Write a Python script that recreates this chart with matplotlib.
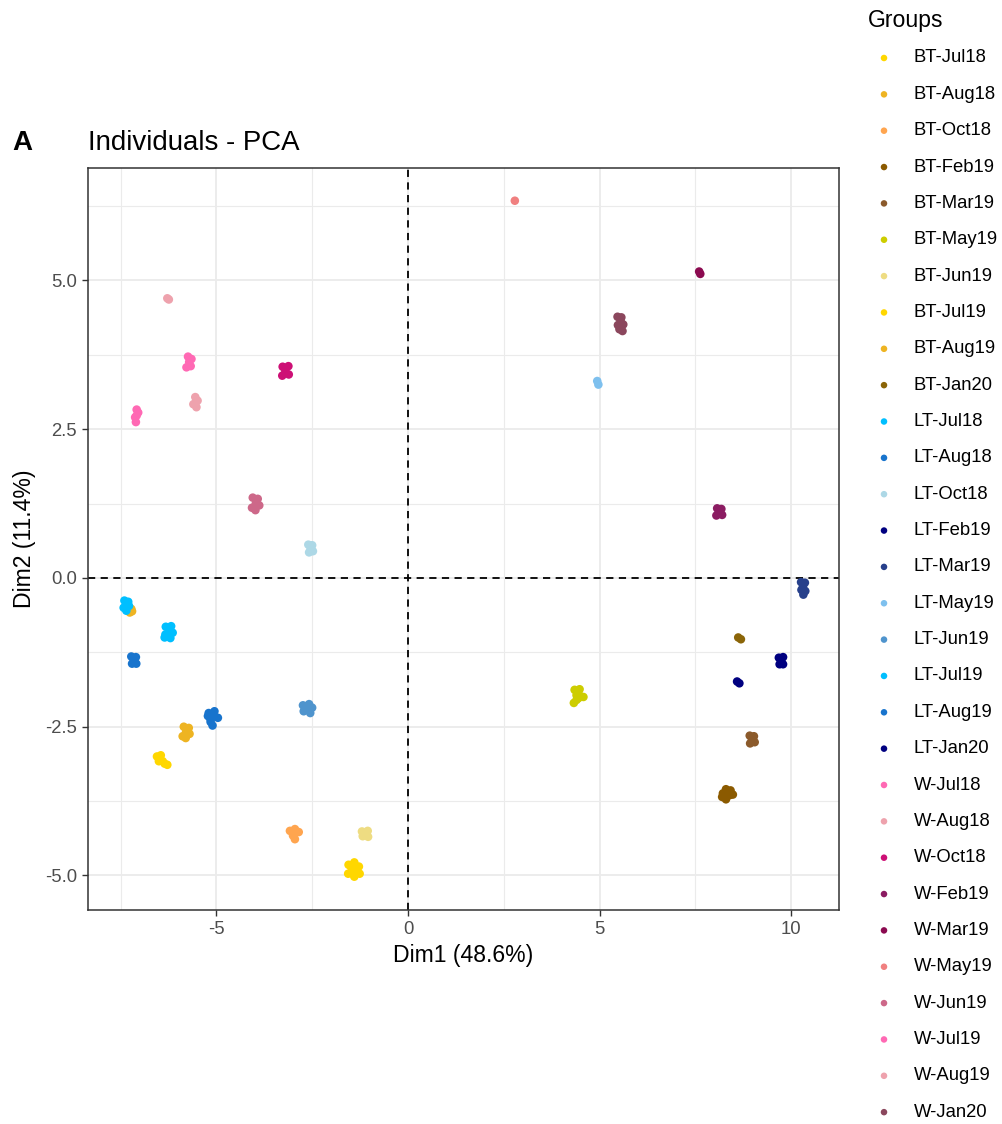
import matplotlib
matplotlib.use("Agg")
import matplotlib.pyplot as plt

plt.rcParams['font.family'] = ['Liberation Sans', 'DejaVu Sans']

# Group labels (legend order) and their colours
groups = [
    "BT-Jul18", "BT-Aug18", "BT-Oct18", "BT-Feb19", "BT-Mar19", "BT-May19",
    "BT-Jun19", "BT-Jul19", "BT-Aug19", "BT-Jan20",
    "LT-Jul18", "LT-Aug18", "LT-Oct18", "LT-Feb19", "LT-Mar19", "LT-May19",
    "LT-Jun19", "LT-Jul19", "LT-Aug19", "LT-Jan20",
    "W-Jul18", "W-Aug18", "W-Oct18", "W-Feb19", "W-Mar19", "W-May19",
    "W-Jun19", "W-Jul19", "W-Aug19", "W-Jan20",
]
colors = [
    "#FFD700", "#EEB422", "#FFA54F", "#8B5A00", "#8B5A2B", "#CDCD00",
    "#EEDC82", "#FFD700", "#EEB422", "#8B6508",
    "#00BFFF", "#1874CD", "#ADD8E6", "#000080", "#27408B", "#7EC0EE",
    "#4F94CD", "#00BFFF", "#1874CD", "#000080",
    "#FF69B4", "#EEA2AD", "#CD1076", "#8B1C62", "#8B0A50", "#F08080",
    "#CD6889", "#FF69B4", "#EEA2AD", "#8B475D",
]

# PCA scores (Dim1, Dim2) of the individuals in each group
dim1 = {
    "BT-Jul18": [-6.55, -6.45, -6.50, -6.35, -6.28, -6.48, -6.40],
    "BT-Aug18": [-7.30, -7.22, -7.26, -7.20],
    "BT-Oct18": [-3.08, -2.95, -2.85, -3.00, -2.95, -2.97],
    "BT-Feb19": [8.22, 8.30, 8.42, 8.48, 8.30, 8.20, 8.33, 8.40],
    "BT-Mar19": [8.92, 9.03, 9.05, 8.93, 8.98],
    "BT-May19": [4.35, 4.48, 4.40, 4.58, 4.33, 4.45, 4.45, 4.40],
    "BT-Jun19": [-1.20, -1.05, -1.18, -1.04, -1.12],
    "BT-Jul19": [-1.55, -1.40, -1.28, -1.26, -1.40, -1.56, -1.45, -1.35, -1.48],
    "BT-Aug19": [-5.85, -5.72, -5.70, -5.88, -5.80, -5.79],
    "BT-Jan20": [8.62, 8.69],
    "LT-Jul18": [-7.40, -7.30, -7.42, -7.35, -7.28, -7.35],
    "LT-Aug18": [-7.22, -7.10, -7.20, -7.09, -7.15],
    "LT-Oct18": [-2.60, -2.50, -2.58, -2.48, -2.54],
    "LT-Feb19": [9.68, 9.79, 9.70, 9.79, 9.74],
    "LT-Mar19": [10.26, 10.36, 10.27, 10.37, 10.32, 10.31],
    "LT-May19": [4.94, 4.97],
    "LT-Jun19": [-2.74, -2.58, -2.50, -2.55, -2.72, -2.65, -2.62],
    "LT-Jul19": [-6.32, -6.18, -6.14, -6.33, -6.20, -6.35, -6.24],
    "LT-Aug19": [-5.20, -5.05, -4.96, -5.15, -5.10, -5.22, -5.10, -5.15],
    "LT-Jan20": [8.59, 8.65],
    "W-Jul18": [-7.08, -7.04, -7.12, -7.10, -7.08],
    "W-Aug18": [-6.28, -6.24],
    "W-Oct18": [-3.27, -3.12, -3.11, -3.28, -3.20],
    "W-Feb19": [8.07, 8.18, 8.20, 8.05, 8.12],
    "W-Mar19": [7.60, 7.63],
    "W-May19": [2.79],
    "W-Jun19": [-4.05, -3.92, -3.88, -4.07, -3.98, -3.97],
    "W-Jul19": [-5.74, -5.65, -5.67, -5.78, -5.71],
    "W-Aug19": [-5.55, -5.49, -5.60, -5.52, -5.54],
    "W-Jan20": [5.47, 5.57, 5.62, 5.48, 5.60, 5.52, 5.55],
}
dim2 = {
    "BT-Jul18": [-3.00, -2.98, -3.08, -3.12, -3.14, -3.04, -3.08],
    "BT-Aug18": [-0.48, -0.52, -0.58, -0.56],
    "BT-Oct18": [-4.25, -4.22, -4.27, -4.33, -4.39, -4.29],
    "BT-Feb19": [-3.62, -3.55, -3.57, -3.64, -3.72, -3.68, -3.63, -3.65],
    "BT-Mar19": [-2.65, -2.66, -2.76, -2.78, -2.71],
    "BT-May19": [-1.88, -1.87, -1.97, -2.00, -2.10, -2.02, -1.94, -2.05],
    "BT-Jun19": [-4.26, -4.25, -4.34, -4.35, -4.30],
    "BT-Jul19": [-4.82, -4.78, -4.85, -4.97, -5.02, -4.97, -4.90, -4.90, -4.86],
    "BT-Aug19": [-2.50, -2.52, -2.62, -2.66, -2.69, -2.59],
    "BT-Jan20": [-1.00, -1.03],
    "LT-Jul18": [-0.38, -0.40, -0.50, -0.55, -0.47, -0.45],
    "LT-Aug18": [-1.32, -1.33, -1.44, -1.44, -1.38],
    "LT-Oct18": [0.56, 0.55, 0.43, 0.45, 0.50],
    "LT-Feb19": [-1.34, -1.33, -1.45, -1.45, -1.39],
    "LT-Mar19": [-0.07, -0.08, -0.20, -0.22, -0.28, -0.15],
    "LT-May19": [3.31, 3.25],
    "LT-Jun19": [-2.14, -2.12, -2.18, -2.27, -2.24, -2.20, -2.19],
    "LT-Jul19": [-0.82, -0.81, -0.92, -0.95, -1.01, -1.00, -0.91],
    "LT-Aug19": [-2.27, -2.24, -2.35, -2.38, -2.48, -2.32, -2.33, -2.42],
    "LT-Jan20": [-1.74, -1.77],
    "W-Jul18": [2.83, 2.78, 2.70, 2.62, 2.73],
    "W-Aug18": [4.70, 4.68],
    "W-Oct18": [3.55, 3.56, 3.42, 3.40, 3.48],
    "W-Feb19": [1.17, 1.16, 1.06, 1.05, 1.11],
    "W-Mar19": [5.15, 5.11],
    "W-May19": [6.34],
    "W-Jun19": [1.35, 1.33, 1.22, 1.18, 1.14, 1.25],
    "W-Jul19": [3.72, 3.68, 3.56, 3.54, 3.63],
    "W-Aug19": [3.04, 2.98, 2.92, 2.87, 2.95],
    "W-Jan20": [4.39, 4.38, 4.26, 4.25, 4.15, 4.18, 4.32],
}

x_ticks = [-5, 0, 5, 10]
x_tick_labels = ["-5", "0", "5", "10"]
y_ticks = [-5.0, -2.5, 0.0, 2.5, 5.0]
y_tick_labels = ["-5.0", "-2.5", "0.0", "2.5", "5.0"]

W, H = 1003, 1124
fig = plt.figure(figsize=(W / 100, H / 100), dpi=100)
ax = fig.add_axes([88 / W, 1 - 910 / H, (839 - 88) / W, (910 - 168) / H])

grid_col = "#EBEBEB"
for v in [-7.5, -2.5, 2.5, 7.5]:
    ax.axvline(v, color=grid_col, lw=0.8, zorder=0)
for v in x_ticks:
    ax.axvline(v, color=grid_col, lw=1.3, zorder=0)
for v in [-3.75, -1.25, 1.25, 3.75, 6.25]:
    ax.axhline(v, color=grid_col, lw=0.8, zorder=0)
for v in y_ticks:
    ax.axhline(v, color=grid_col, lw=1.3, zorder=0)

ax.axvline(0, color="black", lw=1.3, ls=(0, (4, 3)), zorder=1)
ax.axhline(0, color="black", lw=1.3, ls=(0, (4, 3)), zorder=1)

for g, c in zip(groups, colors):
    ax.scatter(dim1[g], dim2[g], s=38, color=c, edgecolors="none", zorder=3)

ax.set_xlim(-8.35, 11.25)
ax.set_ylim(-5.58, 6.89)
ax.set_xticks(x_ticks)
ax.set_xticklabels(x_tick_labels)
ax.set_yticks(y_ticks)
ax.set_yticklabels(y_tick_labels)
ax.tick_params(labelsize=13.3, labelcolor="#4D4D4D", color="#333333",
               length=4.5, width=1.0)
for s in ax.spines.values():
    s.set_color("#333333")
    s.set_linewidth(1.1)
ax.set_xlabel("Dim1 (48.6%)", fontsize=16.6, labelpad=4)
ax.set_ylabel("Dim2 (11.4%)", fontsize=16.6, labelpad=6)

# Panel letter and title
fig.text(12 / W, 1 - 143 / H, "A", fontsize=20, fontweight="bold",
         va="center", ha="left")
fig.text(88 / W, 1 - 143 / H, "Individuals - PCA", fontsize=19.9,
         va="center", ha="left")

# Legend drawn on an overlay in pixel coordinates
lax = fig.add_axes([0, 0, 1, 1], facecolor="none")
lax.set_xlim(0, W)
lax.set_ylim(H, 0)
lax.axis("off")
lax.text(868, 20, "Groups", fontsize=16.6, va="center", ha="left")
first_y, step = 58, 36.35
for i, (g, c) in enumerate(zip(groups, colors)):
    yy = first_y + i * step
    lax.scatter([884], [yy], s=22, color=c, edgecolors="none")
    lax.text(914, yy, g, fontsize=13.3, va="center", ha="left")

fig.savefig("out.png", dpi=100)
